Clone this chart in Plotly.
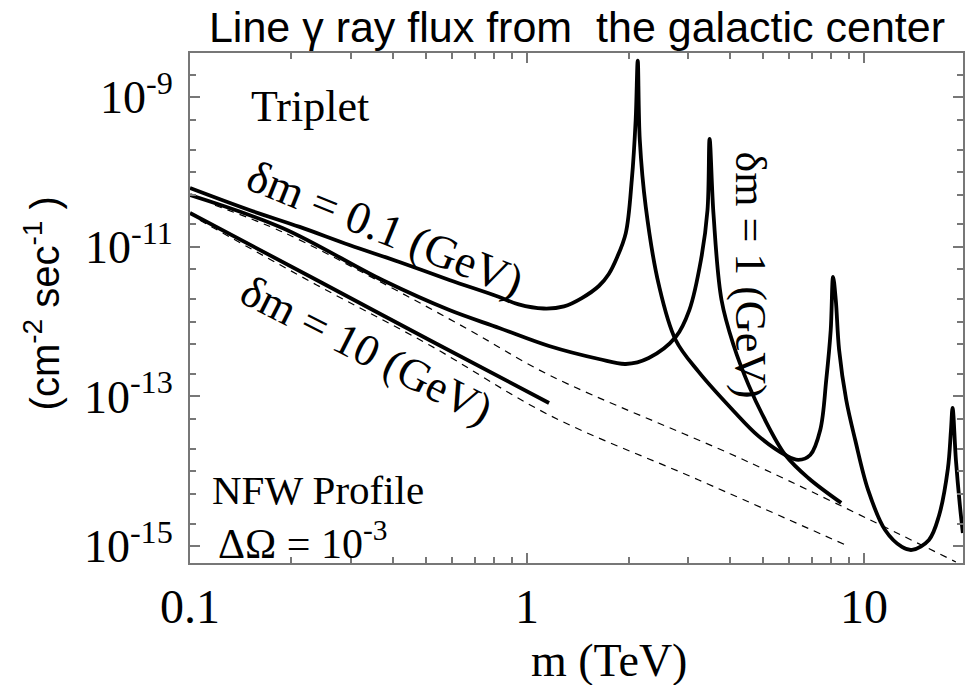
import plotly.graph_objects as go
import numpy as np

# ---- data ----
m_dm01 = [0.1, 0.15, 0.2115, 0.297, 0.418, 0.588, 0.8265, 0.944, 1.12, 1.287, 1.454, 1.633, 1.748, 1.846, 1.963,
          2.045, 2.10, 2.13,
          2.16, 2.25, 2.46, 2.76, 3.23, 4.10, 4.86, 5.84, 6.38, 6.92, 7.41, 7.72, 7.96, 8.09,
          8.24, 8.43, 8.85, 9.41, 10.28, 11.54, 12.95, 13.87, 15.57, 16.67, 17.72, 18.1, 18.3,
          18.72, 19.23, 19.63]
f_dm01 = [6.12e-11, 3.11e-11, 1.85e-11, 1.06e-11, 6.28e-12, 3.61e-12, 2.14e-12, 1.70e-12, 1.50e-12, 1.60e-12, 2.07e-12,
          3.0e-12, 4.35e-12, 7.11e-12, 1.53e-11,
          7.83e-11, 4.97e-10, 3.1e-9,
          2.69e-10, 3.41e-11, 3.1e-12, 5.69e-13, 2.13e-13, 6.4e-14, 2.95e-14, 1.65e-14, 1.42e-14, 1.65e-14,
          3.57e-14, 1.66e-13, 7.7e-13, 3.96e-12,
          1.95e-12, 4.18e-13, 8.97e-14, 2.62e-14, 5.6e-15, 1.64e-15, 9.74e-16, 8.89e-16, 1.21e-15,
          2.53e-15, 1.08e-14, 3.56e-14, 7.02e-14,
          1.42e-14, 3.55e-15, 1.5e-15]

m_dm1 = [0.1, 0.188, 0.372, 0.588, 0.8265, 1.162, 1.633, 1.963, 2.296, 2.76, 3.03, 3.28, 3.43, 3.48,
         3.575, 3.775, 4.097, 4.54, 5.03, 5.84, 6.83, 8.55]
f_dm1 = [4.94e-11, 1.79e-11, 3.6e-12, 1.43e-12, 8.24e-13, 4.73e-13, 3.17e-13, 2.72e-13, 3.27e-13, 6.23e-13,
         1.43e-12, 6.68e-12, 3.11e-11, 2.77e-10,
         2.67e-11, 1.95e-12, 4.88e-13, 1.43e-13, 5.32e-14, 1.65e-14, 8.13e-15, 3.78e-15]

m_dm10 = [0.1, 0.2375, 0.513, 1.162]
f_dm10 = [2.84e-11, 3.61e-12, 5.69e-13, 8.18e-14]

m_dashA = [0.1186, 0.1884, 0.3724, 0.674, 1.162, 4.54, 18.72]
f_dashA = [3.6e-11, 1.58e-11, 3.3e-12, 7.74e-13, 1.94e-13, 1.33e-14, 6.14e-16]

m_dashB = [0.107, 0.2375, 0.513, 1.162, 3.23, 8.79]
f_dashB = [2.27e-11, 3.1e-12, 4.88e-13, 5.66e-14, 7.66e-15, 1.04e-15]

x_ticks = [0.1, 1, 10]
x_ticktext = ["0.1", "1", "10"]
y_ticks = [1e-15, 1e-13, 1e-11, 1e-9]
y_ticktext = ["10<sup>-15</sup>", "10<sup>-13</sup>", "10<sup>-11</sup>", "10<sup>-9</sup>"]

SERIF = "Liberation Serif, Times New Roman, serif"
SANS = "Liberation Sans, Arial, sans-serif"

fig = go.Figure()
solid = dict(color="black", width=3.8)
dash = dict(color="black", width=1.2, dash="7px,6px")
fig.add_trace(go.Scatter(x=m_dashA, y=f_dashA, mode="lines", line=dash, line_shape="spline", showlegend=False))
fig.add_trace(go.Scatter(x=m_dashB, y=f_dashB, mode="lines", line=dash, line_shape="spline", showlegend=False))
fig.add_trace(go.Scatter(x=m_dm01, y=f_dm01, mode="lines", line=solid, line_shape="spline", showlegend=False))
fig.add_trace(go.Scatter(x=m_dm1, y=f_dm1, mode="lines", line=solid, line_shape="spline", showlegend=False))
fig.add_trace(go.Scatter(x=m_dm10, y=f_dm10, mode="lines", line=solid, line_shape="spline", showlegend=False))

minor_x = [v * d for d in (0.1, 1) for v in range(2, 10)]
minor_y = []
for e in range(-16, -7):
    for k in (1, 2, 5):
        minor_y.append(k * 10.0 ** e)

axcommon = dict(showgrid=False, zeroline=False, showline=True, linecolor="#777", linewidth=2,
                mirror="allticks", ticks="inside", tickcolor="#777", tickwidth=1.5)
fig.update_xaxes(type="log", range=[-1, np.log10(19.65)], tickvals=x_ticks, ticktext=x_ticktext,
                 ticklen=10, tickfont=dict(family=SERIF, size=48, color="black"),
                 minor=dict(tickvals=minor_x, ticks="inside", ticklen=6, tickcolor="#777"),
                 **axcommon)
fig.update_yaxes(type="log", range=[-15.226, -8.408], tickvals=y_ticks, ticktext=y_ticktext,
                 ticklen=10, tickfont=dict(family=SERIF, size=46, color="black"), ticklabelstandoff=6,
                 minor=dict(tickvals=minor_y, ticks="inside", ticklen=6, tickcolor="#777"),
                 **axcommon)

# positions given as reference-pixel centres, converted to paper fractions
def px(x):
    return (x - 190) / 775.0

def py(y):
    return (563 - y) / 510.0

ann = [
    dict(text="Triplet", x=310, y=107, size=44, angle=0, family=SERIF),
    dict(text="NFW Profile", x=318, y=490, size=41, angle=0, family=SERIF),
    dict(text="ΔΩ = 10<sup>-3</sup>", x=303, y=540, size=42, angle=0, family=SERIF),
    dict(text="δm = 0.1 (GeV)", x=386, y=228, size=46, angle=22, family=SERIF),
    dict(text="δm = 10 (GeV)", x=367, y=350, size=45, angle=27, family=SERIF),
    dict(text="δm = 1 (GeV)", x=752, y=275, size=44, angle=90, family=SERIF),
    dict(text="m (TeV)", x=610, y=660, size=46, angle=0, family=SERIF),
    dict(text="(cm<sup>-2</sup> sec<sup>-1</sup> )", x=42, y=303, size=40, angle=-90, family=SANS),
]
for a in ann:
    fig.add_annotation(text=a["text"], xref="paper", yref="paper", x=px(a["x"]), y=py(a["y"]),
                       xanchor="center", yanchor="middle",
                       showarrow=False, textangle=a["angle"],
                       font=dict(family=a["family"], size=a["size"], color="black"))

fig.update_layout(
    width=972, height=685,
    margin=dict(l=190, r=7, t=53, b=122),
    paper_bgcolor="white", plot_bgcolor="white",
    title=dict(text="Line γ ray flux from  the galactic center", x=(577 / 972), xanchor="center",
               yref="container", y=1 - 27 / 685, yanchor="middle",
               font=dict(family=SANS, size=43, color="black")),
)
fig.write_html("out.html", config={"displayModeBar": False},
               post_script="document.documentElement.style.margin='0';document.body.style.margin='0';document.body.style.overflow='hidden';")
